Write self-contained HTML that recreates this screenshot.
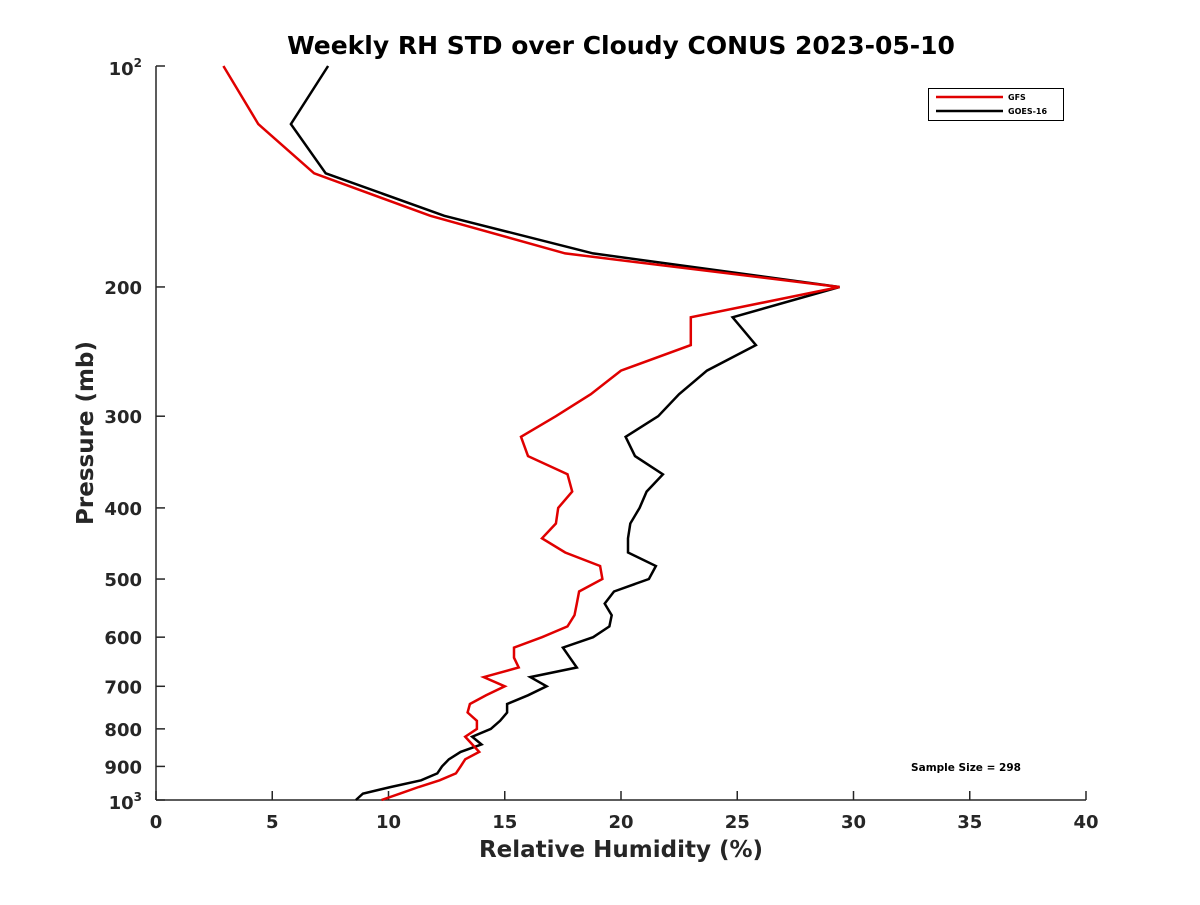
<!DOCTYPE html>
<html><head><meta charset="utf-8"><style>
body{margin:0;background:#fff;}
text{font-family:"DejaVu Sans","Liberation Sans",sans-serif;font-weight:bold;fill:#262626;}
</style></head><body>
<svg id="c" width="1200" height="900" xmlns="http://www.w3.org/2000/svg">
<rect width="1200" height="900" fill="#fff"/>
<text x="621" y="54" text-anchor="middle" font-size="25" style="fill:#000">Weekly RH STD over Cloudy CONUS 2023-05-10</text>
<g id="axes"></g>
<g id="series"></g>
<text transform="translate(93,433) rotate(-90)" text-anchor="middle" font-size="23">Pressure (mb)</text>
<text x="621" y="857" text-anchor="middle" font-size="23">Relative Humidity (%)</text>
<text x="966" y="771" text-anchor="middle" font-size="10.5" style="fill:#000">Sample Size = 298</text>
<g>
<rect x="928.5" y="88.5" width="135" height="32" fill="#fff" stroke="#000" stroke-width="1"/>
<line x1="936" y1="97" x2="1003" y2="97" stroke="#e00000" stroke-width="2.5"/>
<text x="1008" y="100" font-size="8" style="fill:#000">GFS</text>
<line x1="936" y1="111" x2="1003" y2="111" stroke="#000" stroke-width="2.5"/>
<text x="1008" y="114" font-size="8" style="fill:#000">GOES-16</text>
</g>
</svg>
<script>
const pressures=[100,120,140,160,180,200,220,240,260,280,300,320,340,360,380,400,420,440,460,480,500,520,540,560,580,600,620,640,660,680,700,720,740,760,780,800,820,840,860,880,900,920,940,960,980,1000];
const gfsValues=[2.9,4.4,6.8,11.8,17.6,29.4,23.0,23.0,20.0,18.7,17.2,15.7,16.0,17.7,17.9,17.3,17.2,16.6,17.6,19.1,19.2,18.2,18.1,18.0,17.7,16.6,15.4,15.4,15.6,14.1,15.0,14.2,13.5,13.4,13.8,13.8,13.3,13.6,13.9,13.3,13.1,12.9,12.2,11.3,10.5,9.7];
const goesValues=[7.4,5.8,7.3,12.4,18.8,29.4,24.8,25.8,23.7,22.5,21.6,20.2,20.6,21.8,21.1,20.8,20.4,20.3,20.3,21.5,21.2,19.7,19.3,19.6,19.5,18.8,17.5,17.8,18.1,16.1,16.8,16.0,15.1,15.1,14.8,14.4,13.6,14.0,13.1,12.6,12.3,12.1,11.4,10.1,8.9,8.6];
const xTicks=[0,5,10,15,20,25,30,35,40];
const yTicks=[200,300,400,500,600,700,800,900];
const X0=156,X1=1086,Y0=66,Y1=800;
function xs(v){return X0+(v-0)/40*(X1-X0);}
function ys(p){return Y0+Math.log10(p/100)*(Y1-Y0);}
const NS="http://www.w3.org/2000/svg";
const axes=document.getElementById('axes'),ser=document.getElementById('series');
function mk(tag,at,parent){const e=document.createElementNS(NS,tag);for(const k in at)e.setAttribute(k,at[k]);parent.appendChild(e);return e;}
const xa=mk('line',{x1:X0,y1:Y1,x2:X1,y2:Y1,stroke:'#262626','stroke-width':1.5},axes);


const ya=mk('line',{x1:X0,y1:Y0,x2:X0,y2:Y1,stroke:'#262626','stroke-width':1.5},axes);


xTicks.forEach(v=>{
  const x=xs(v);
  const t=mk('line',{x1:x,y1:Y1,x2:x,y2:Y1-9,stroke:'#262626','stroke-width':1.5},axes);
  
  
  const l=mk('text',{x:x,y:Y1+28,'text-anchor':'middle','font-size':18},axes);
  l.textContent=v;
  
  
});
function ylab(y,txt,sup){
  const l=mk('text',{x:X0-14,y:y+7,'text-anchor':'end','font-size':18},axes);
  l.textContent=txt;
  if(sup){const s=mk('tspan',{'font-size':12,dy:-8},l);s.textContent=sup;}
  
  
}
[100,1000].concat(yTicks).forEach(p=>{
  const y=ys(p);
  const t=mk('line',{x1:X0,y1:y,x2:X0+9,y2:y,stroke:'#262626','stroke-width':1.5},axes);
  
  
});
ylab(ys(100)+2,'10','2');ylab(ys(1000)+2,'10','3');
yTicks.forEach(p=>ylab(ys(p),String(p)));
function line(vals,color,name){
  const d=vals.map((v,i)=>(i?'L':'M')+xs(v).toFixed(1)+','+ys(pressures[i]).toFixed(1)).join('');
  const p=mk('path',{d:d,fill:'none',stroke:color,'stroke-width':2.5,'stroke-linejoin':'miter'},ser);
  
  
}
line(goesValues,'#000','goes16-line');
line(gfsValues,'#e00000','gfs-line');
</script>
</body></html>
